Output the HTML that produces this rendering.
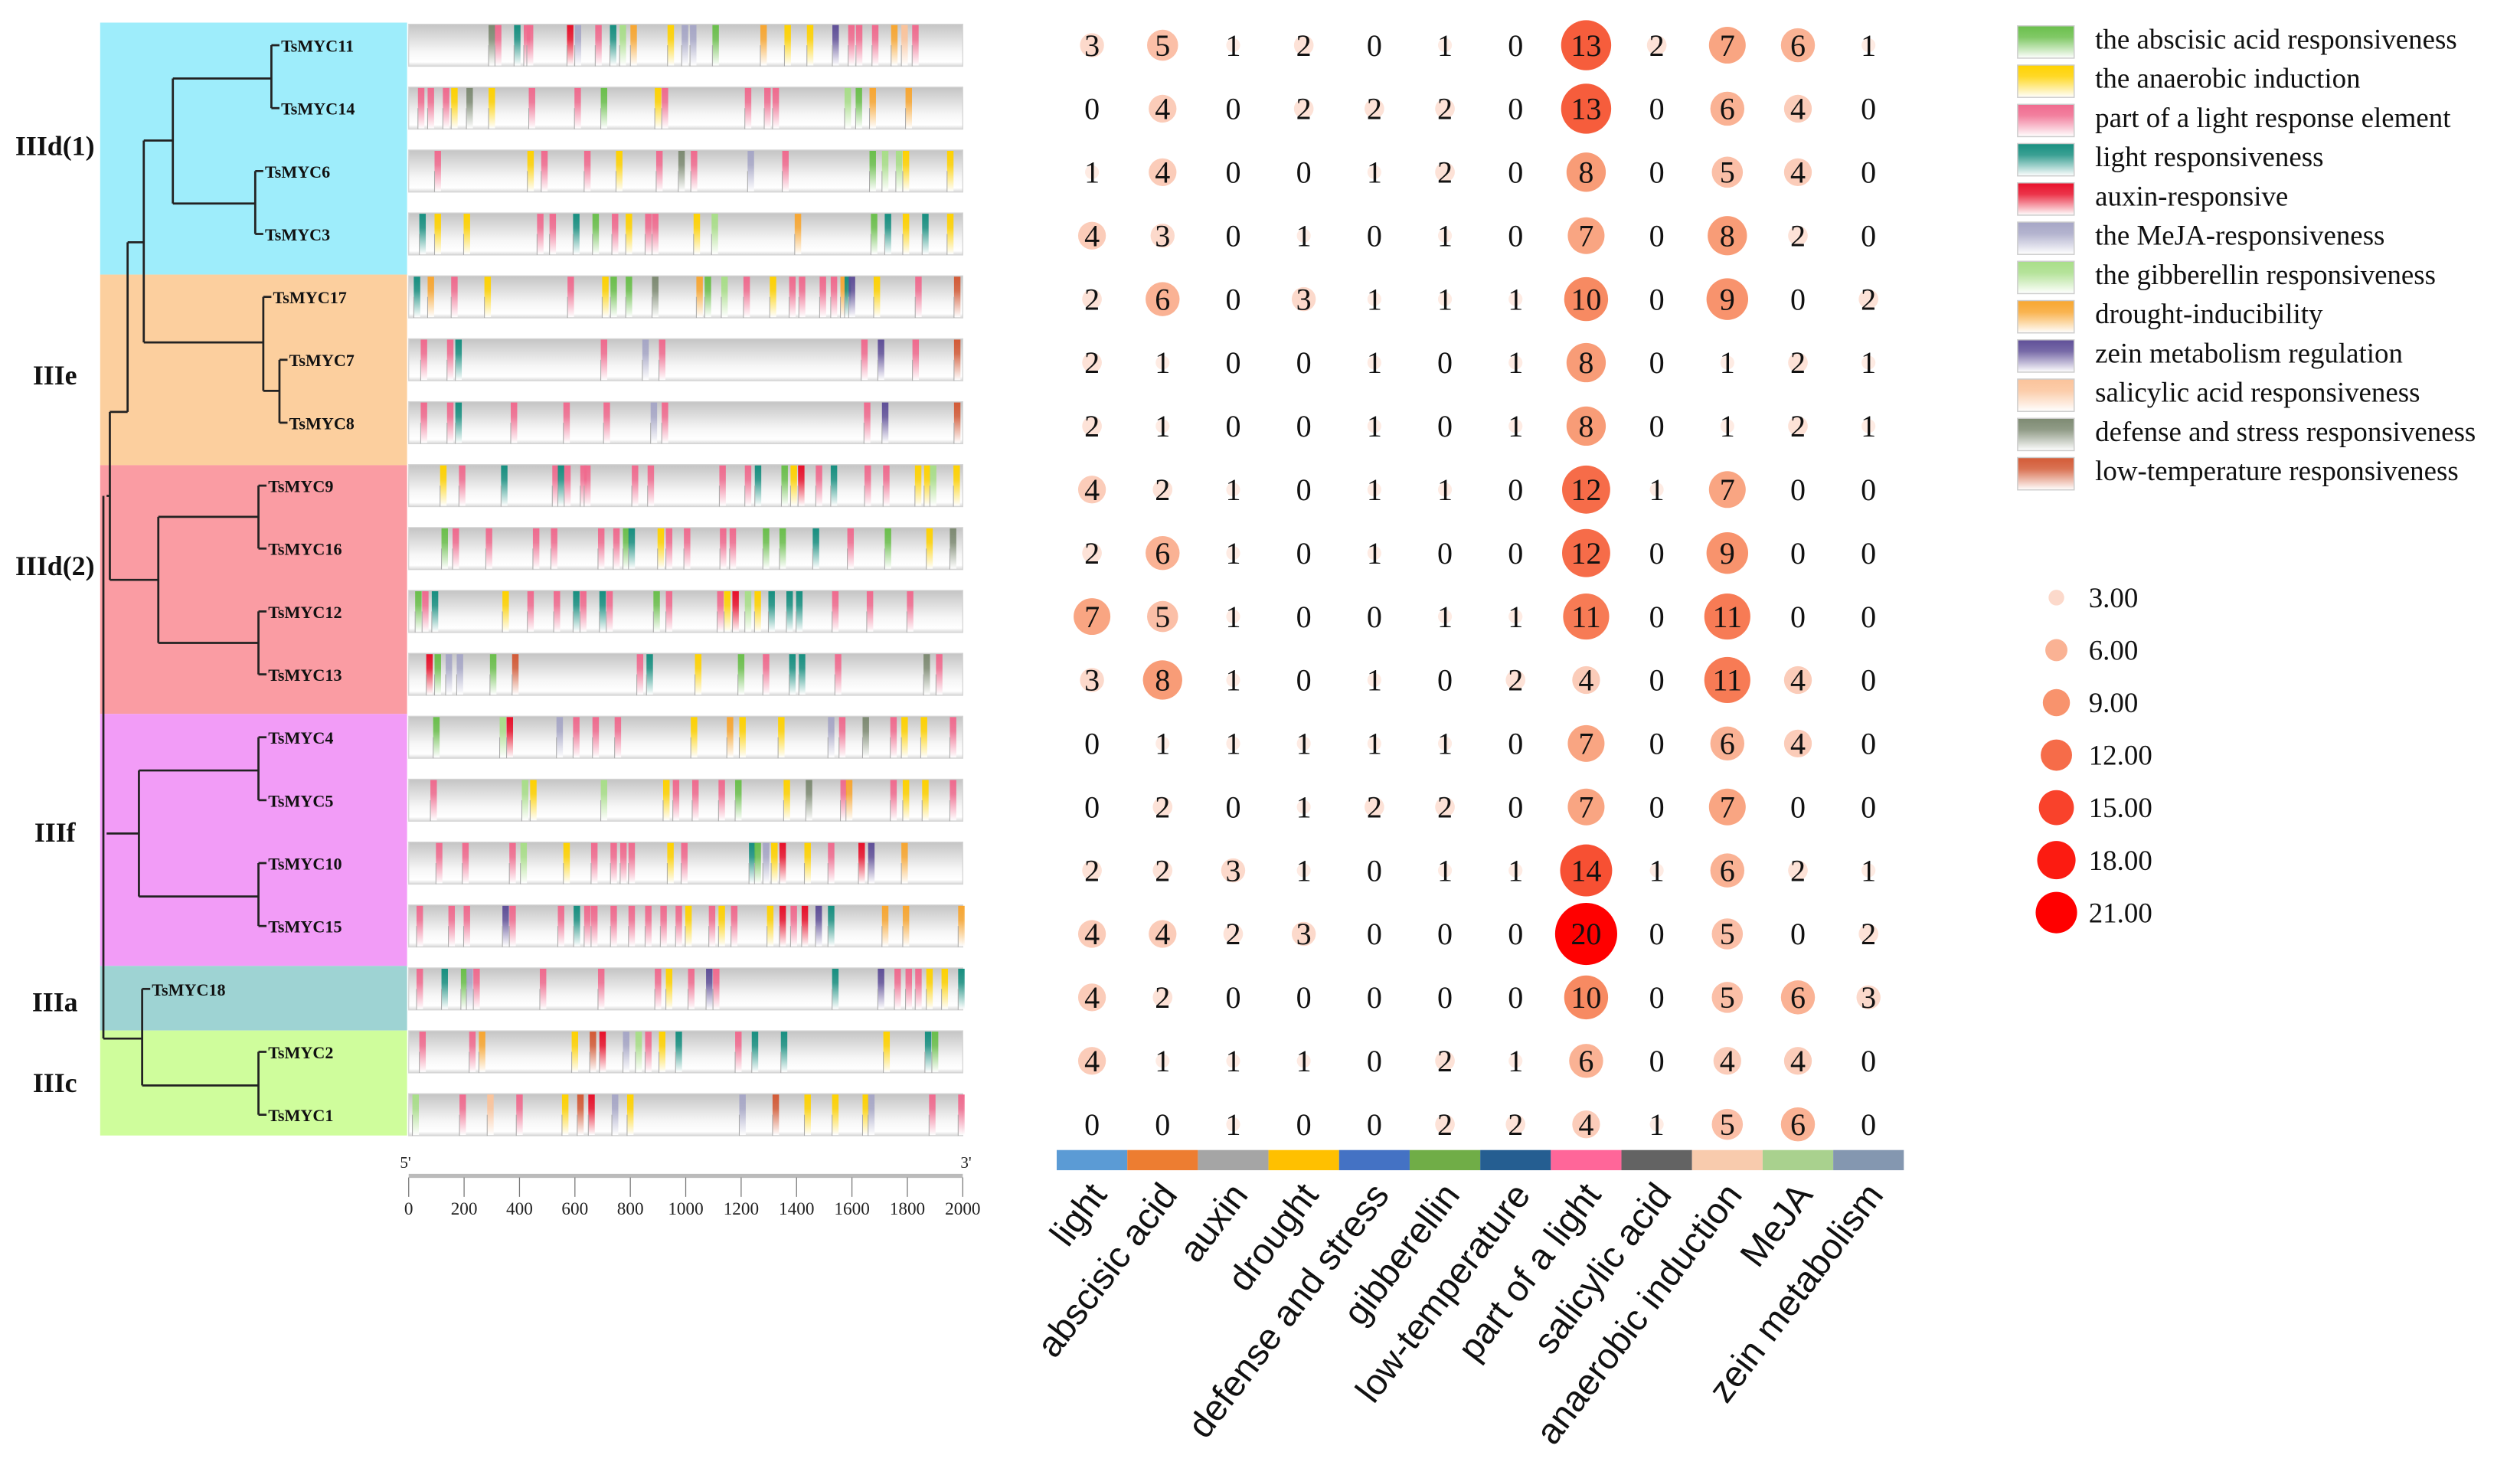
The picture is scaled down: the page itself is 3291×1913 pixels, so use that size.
<!DOCTYPE html>
<html><head><meta charset="utf-8"><style>
html,body{margin:0;padding:0;background:#fff;}
svg{display:block;}
</style></head><body>
<svg id="fig" xmlns="http://www.w3.org/2000/svg" width="3291" height="1913" viewBox="0 0 1560 907" preserveAspectRatio="none">
<defs id="defs">
<linearGradient id="barg" x1="0" y1="0" x2="0" y2="1">
<stop offset="0" stop-color="#c4c4c4"/><stop offset="0.65" stop-color="#f6f6f6"/><stop offset="0.9" stop-color="#ffffff"/><stop offset="1" stop-color="#d8d8d8"/>
</linearGradient>
</defs>
<g id="clades"></g>
<g id="tree" stroke="#222" stroke-width="1.3" fill="none"></g>
<g id="genes"></g>
<g id="axis"></g>
<g id="bubbles"></g>
<g id="strip"></g>
<g id="cats"></g>
<g id="legend"></g>
<g id="sizeleg"></g>
</svg>
<script>
const NS="http://www.w3.org/2000/svg";
const geneNames=["TsMYC11","TsMYC14","TsMYC6","TsMYC3","TsMYC17","TsMYC7","TsMYC8","TsMYC9","TsMYC16","TsMYC12","TsMYC13","TsMYC4","TsMYC5","TsMYC10","TsMYC15","TsMYC18","TsMYC2","TsMYC1"];
const categories=["light","abscisic acid","auxin","drought","defense and stress","gibberellin","low-temperature","part of a light","salicylic acid","anaerobic induction","MeJA","zein metabolism"];
const counts=[
[3,5,1,2,0,1,0,13,2,7,6,1],
[0,4,0,2,2,2,0,13,0,6,4,0],
[1,4,0,0,1,2,0,8,0,5,4,0],
[4,3,0,1,0,1,0,7,0,8,2,0],
[2,6,0,3,1,1,1,10,0,9,0,2],
[2,1,0,0,1,0,1,8,0,1,2,1],
[2,1,0,0,1,0,1,8,0,1,2,1],
[4,2,1,0,1,1,0,12,1,7,0,0],
[2,6,1,0,1,0,0,12,0,9,0,0],
[7,5,1,0,0,1,1,11,0,11,0,0],
[3,8,1,0,1,0,2,4,0,11,4,0],
[0,1,1,1,1,1,0,7,0,6,4,0],
[0,2,0,1,2,2,0,7,0,7,0,0],
[2,2,3,1,0,1,1,14,1,6,2,1],
[4,4,2,3,0,0,0,20,0,5,0,2],
[4,2,0,0,0,0,0,10,0,5,6,3],
[4,1,1,1,0,2,1,6,0,4,4,0],
[0,0,1,0,0,2,2,4,1,5,6,0]];
const sizeLegendValues=[3,6,9,12,15,18,21];
const axisTicks=[0,200,400,600,800,1000,1200,1400,1600,1800,2000];
const legendLabels=["the abscisic acid responsiveness","the anaerobic induction","part of a light response element","light responsiveness","auxin-responsive","the MeJA-responsiveness","the gibberellin responsiveness","drought-inducibility","zein metabolism regulation","salicylic acid responsiveness","defense and stress responsiveness","low-temperature responsiveness"];
const motifKeys=["ab","an","pl","lr","au","mj","gb","dr","ze","sa","de","lt"];
const motifColors=["#6abf4b","#ffd200","#f06a8e","#178f80","#e8102a","#a6a6c6","#a8de88","#f8a630","#5f4f98","#fbc39a","#7d8a72","#d35a36"];
const stripColors=["#5b9bd5","#ed7d31","#a5a5a5","#ffc000","#4472c4","#70ad47","#255e91","#ff6699","#636363","#f8cbad","#a9d18e","#8497b0"];
const motifs=[
"300de,323pl,392lr,427pl,438pl,583au,611mj,685pl,738lr,773gb,812dr,946an,997mj,1027mj,1108ab,1281dr,1368an,1449an,1541ze,1598pl,1626pl,1684pl,1753dr,1790sa,1829pl",
"45pl,80pl,135pl,165an,220de,300an,445pl,610pl,705ab,900an,925pl,1225pl,1295pl,1325pl,1585gb,1625ab,1675dr,1805dr",
"105pl,440an,490pl,645pl,760an,905pl,985de,1030pl,1235mj,1360pl,1675ab,1720gb,1770gb,1795an,1955an",
"50lr,105an,210an,475pl,520pl,605lr,675ab,745pl,795an,865pl,890pl,1040an,1105gb,1405dr,1680ab,1730lr,1795an,1865lr,1955an",
"30lr,80dr,165pl,285an,585pl,710an,740ab,795ab,890de,1050dr,1080ab,1140gb,1220pl,1315an,1385pl,1420pl,1495pl,1535pl,1570dr,1585lr,1600ze,1690an,1840pl,1980lt",
"55pl,150pl,180lr,705pl,855mj,915pl,1645pl,1705ze,1830pl,1980lt",
"55pl,150pl,180lr,380pl,570pl,715pl,885mj,925pl,1655pl,1720ze,1980lt",
"125an,193pl,345lr,530pl,550lr,573pl,631pl,645pl,817pl,874pl,1133pl,1225pl,1261lr,1357ab,1390an,1417au,1481pl,1535lr,1657pl,1724pl,1839an,1872an,1893gb,1978an",
"130ab,170pl,290pl,460pl,525pl,695pl,750pl,785ab,805lr,910an,940pl,1005pl,1135pl,1170pl,1290ab,1350ab,1470lr,1595pl,1730ab,1880an,1965de",
"35ab,60pl,95lr,350an,440pl,535pl,605lr,630pl,700lr,725pl,895ab,940pl,1125pl,1150an,1180au,1225gb,1260an,1310lr,1375lr,1410lr,1540pl,1665pl,1810pl",
"75au,105ab,145mj,185mj,305ab,385lt,835pl,870lr,1045an,1200ab,1290pl,1385lr,1420lr,1550pl,1870de,1915pl",
"100ab,340gb,365au,545mj,605pl,675pl,755pl,1030an,1160dr,1205an,1345an,1525mj,1565pl,1650de,1750pl,1790an,1860an,1965pl",
"90pl,420gb,450an,705gb,930an,965pl,1035pl,1130pl,1190ab,1365an,1445de,1570pl,1590dr,1750pl,1795an,1865an,1965pl",
"110pl,205pl,375pl,415gb,570an,670pl,740pl,775pl,805pl,945an,995pl,1240lr,1260ab,1290mj,1320an,1350au,1440an,1525pl,1635au,1670ze,1790dr",
"40pl,155pl,210pl,350ze,375pl,550pl,607lr,645pl,670pl,740pl,805pl,865pl,920pl,975pl,1010an,1095pl,1130an,1175pl,1305an,1350au,1390pl,1430au,1480ze,1525lr,1720dr,1795dr,1995dr",
"40pl,130lr,200ab,220mj,245pl,485pl,695pl,900pl,940an,1020pl,1085ze,1110pl,1540lr,1705ze,1765pl,1805pl,1840pl,1880an,1935an,1995lr",
"50pl,230pl,265dr,600an,665lt,700au,785mj,830gb,865pl,915an,975lr,1190pl,1250lr,1355lr,1725an,1875lr,1900ab",
"25gb,195pl,295sa,400pl,565an,620lt,660au,745mj,800an,1205mj,1325lt,1440an,1540an,1650an,1670mj,1890pl,1995pl"];

const bpX=bp=>253+bp/2000*343;
const geneY=i=>28+i*38.95;
const colX=j=>676+j*43.7;
const rowY=i=>28+i*39.3;
const rad=v=>v<=0?0:4.3*Math.sqrt(v);
function lerp(a,b,t){return Math.round(a+(b-a)*t);}
function hex(c){return [parseInt(c.slice(1,3),16),parseInt(c.slice(3,5),16),parseInt(c.slice(5,7),16)];}
const cStops=[[0,"#fff4ef"],[3,"#fcd9cb"],[7,"#f9a582"],[10,"#f78a62"],[13,"#f65d3c"],[20,"#ff0000"],[21,"#ff0000"]];
function bcol(v){for(let k=0;k<cStops.length-1;k++){const a=cStops[k],b=cStops[k+1];if(v<=b[0]){const t=(v-a[0])/(b[0]-a[0]);const A=hex(a[1]),B=hex(b[1]);return `rgb(${lerp(A[0],B[0],t)},${lerp(A[1],B[1],t)},${lerp(A[2],B[2],t)})`;}}return "#ff0000";}
function mk(tag,attrs,parent){const e=document.createElementNS(NS,tag);for(const k in attrs)e.setAttribute(k,attrs[k]);parent.appendChild(e);return e;}

const defs=document.getElementById('defs');
motifKeys.forEach((k,i)=>{
  const g=mk('linearGradient',{id:'m_'+k,x1:0,y1:0,x2:0,y2:1},defs);
  mk('stop',{offset:0,'stop-color':motifColors[i]},g);
  mk('stop',{offset:0.35,'stop-color':motifColors[i],'stop-opacity':0.85},g);
  mk('stop',{offset:1,'stop-color':'#ffffff','stop-opacity':0.9},g);
});

const clades=[["IIId(1)",14,170,"#9eedfb",90],["IIIe",170,288,"#fccf9e",232],["IIId(2)",288,442,"#fa9ca3",350],["IIIf",442,598,"#f29cf7",515],["IIIa",598,638,"#9ed3d3",620],["IIIc",638,703,"#cffd9c",670]];
const cg=document.getElementById('clades');
clades.forEach(c=>{
  const r=mk('rect',{x:62,y:c[1],width:190,height:c[2]-c[1],fill:c[3]},cg);
  
  
  const t=mk('text',{x:34,y:c[4]+6,'font-family':'Liberation Serif, serif','font-weight':'bold','font-size':17,'text-anchor':'middle',fill:'#111'},cg);
  t.textContent=c[0];
  
  
});

const tg=document.getElementById('tree');
const L=(x1,y1,x2,y2)=>mk('line',{x1,y1,x2,y2},tg);
const gy=geneY;
const leafX=[168,168,158,158,163,173,173,160,160,160,160,160,160,160,160,88,160,160];
geneNames.forEach((n,i)=>{L(leafX[i],gy(i),leafX[i]+5,gy(i));});
L(168,gy(0),168,gy(1));L(107,48.6,168,48.6);
L(158,gy(2),158,gy(3));L(107,126,158,126);
L(107,48.6,107,126);L(89,87,107,87);
L(173,gy(5),173,gy(6));L(163,242,173,242);L(163,gy(4),163,242);L(89,212,163,212);
L(89,87,89,212);L(79,150,89,150);L(79,150,79,255);L(68,255,79,255);
L(160,gy(7),160,gy(8));L(98,320,160,320);L(160,gy(9),160,gy(10));L(98,398,160,398);L(98,320,98,398);L(68,359,98,359);
L(68,255,68,359);L(66,307,68,307);
L(160,gy(11),160,gy(12));L(86,477,160,477);L(160,gy(13),160,gy(14));L(86,555,160,555);L(86,477,86,555);L(66,516,86,516);
L(160,gy(16),160,gy(17));L(88,672,160,672);L(88,gy(15),88,672);L(64,643,88,643);
L(64,307,64,643);
geneNames.forEach((n,i)=>{
  const t=mk('text',{x:leafX[i]+6,y:gy(i)+4,'font-family':'Liberation Serif, serif','font-weight':'bold','font-size':10.5,fill:'#111',stroke:'none'},tg);
  t.textContent=n;
  
  
});

const gg=document.getElementById('genes');
geneNames.forEach((n,i)=>{
  const y=geneY(i)-13;
  const g=mk('g',{},gg);
  
  
  mk('rect',{x:bpX(0),y:y,width:bpX(2000)-bpX(0),height:26,fill:'url(#barg)',stroke:'#d4d4d4','stroke-width':0.6},g);
  motifs[i].split(',').forEach(s=>{
    const bp=parseFloat(s),k=s.replace(/[0-9.]/g,'');
    const r=mk('rect',{x:bpX(bp)-2,y:y+0.5,width:4,height:25,fill:'url(#m_'+k+')'},g);
    
    
    mk('line',{x1:bpX(bp)-2,y1:y+13,x2:bpX(bp)-2,y2:y+26,stroke:'#aaa','stroke-width':0.5},g);
  });
});

const ag=document.getElementById('axis');


mk('line',{x1:bpX(0),y1:728,x2:bpX(2000),y2:728,stroke:'#bbb','stroke-width':2.5},ag);
axisTicks.forEach(v=>{
  mk('line',{x1:bpX(v),y1:729,x2:bpX(v),y2:741,stroke:'#777','stroke-width':0.6},ag);
  const t=mk('text',{x:bpX(v),y:752,'font-family':'Liberation Serif, serif','font-size':11,'text-anchor':'middle',fill:'#222'},ag);
  t.textContent=v;
  
  
});
[["5'",bpX(0)-2],["3'",bpX(2000)+2]].forEach(p=>{const t=mk('text',{x:p[1],y:723,'font-family':'Liberation Serif, serif','font-size':10,'text-anchor':'middle',fill:'#222'},ag);t.textContent=p[0];});

const bg=document.getElementById('bubbles');
counts.forEach((row,i)=>{row.forEach((v,j)=>{
  const cx=colX(j),cy=rowY(i);
  if(v>0){const c=mk('circle',{cx,cy,r:rad(v),fill:bcol(v)},bg);
    
    }
  const t=mk('text',{x:cx,y:cy+6.5,'font-family':'Liberation Serif, serif','font-size':19,'text-anchor':'middle',fill:'#111'},bg);
  t.textContent=v;
  
  
});});

const sg=document.getElementById('strip');
const cag=document.getElementById('cats');
categories.forEach((c,j)=>{
  const r=mk('rect',{x:colX(j)-21.85,y:712,width:43.7,height:12.5,fill:stripColors[j]},sg);
  
  
  const x=colX(j)+10,y=740;
  const t=mk('text',{x,y,'font-family':'Liberation Sans, sans-serif','font-size':22.5,'text-anchor':'end',fill:'#111',transform:`rotate(-53 ${x} ${y})`},cag);
  t.textContent=c;
  
  
});

const lg=document.getElementById('legend');
legendLabels.forEach((l,i)=>{
  const y=16+i*24.3;
  const g=mk('g',{},lg);
  
  
  mk('rect',{x:1249,y,width:35,height:20,fill:'url(#m_'+motifKeys[i]+')',stroke:'#ccc','stroke-width':0.7},g);
  const t=mk('text',{x:1297,y:y+14,'font-family':'Liberation Serif, serif','font-size':17.5,fill:'#111'},g);
  t.textContent=l;
});

const slg=document.getElementById('sizeleg');
sizeLegendValues.forEach((v,i)=>{
  const y=370+i*32.5;
  const c=mk('circle',{cx:1273,cy:y,r:2.8*Math.sqrt(v),fill:bcol(v)},slg);
  
  
  const t=mk('text',{x:1293,y:y+6,'font-family':'Liberation Serif, serif','font-size':17.5,fill:'#111'},slg);
  t.textContent=v.toFixed(2);
  
  
});
</script>
</body></html>
